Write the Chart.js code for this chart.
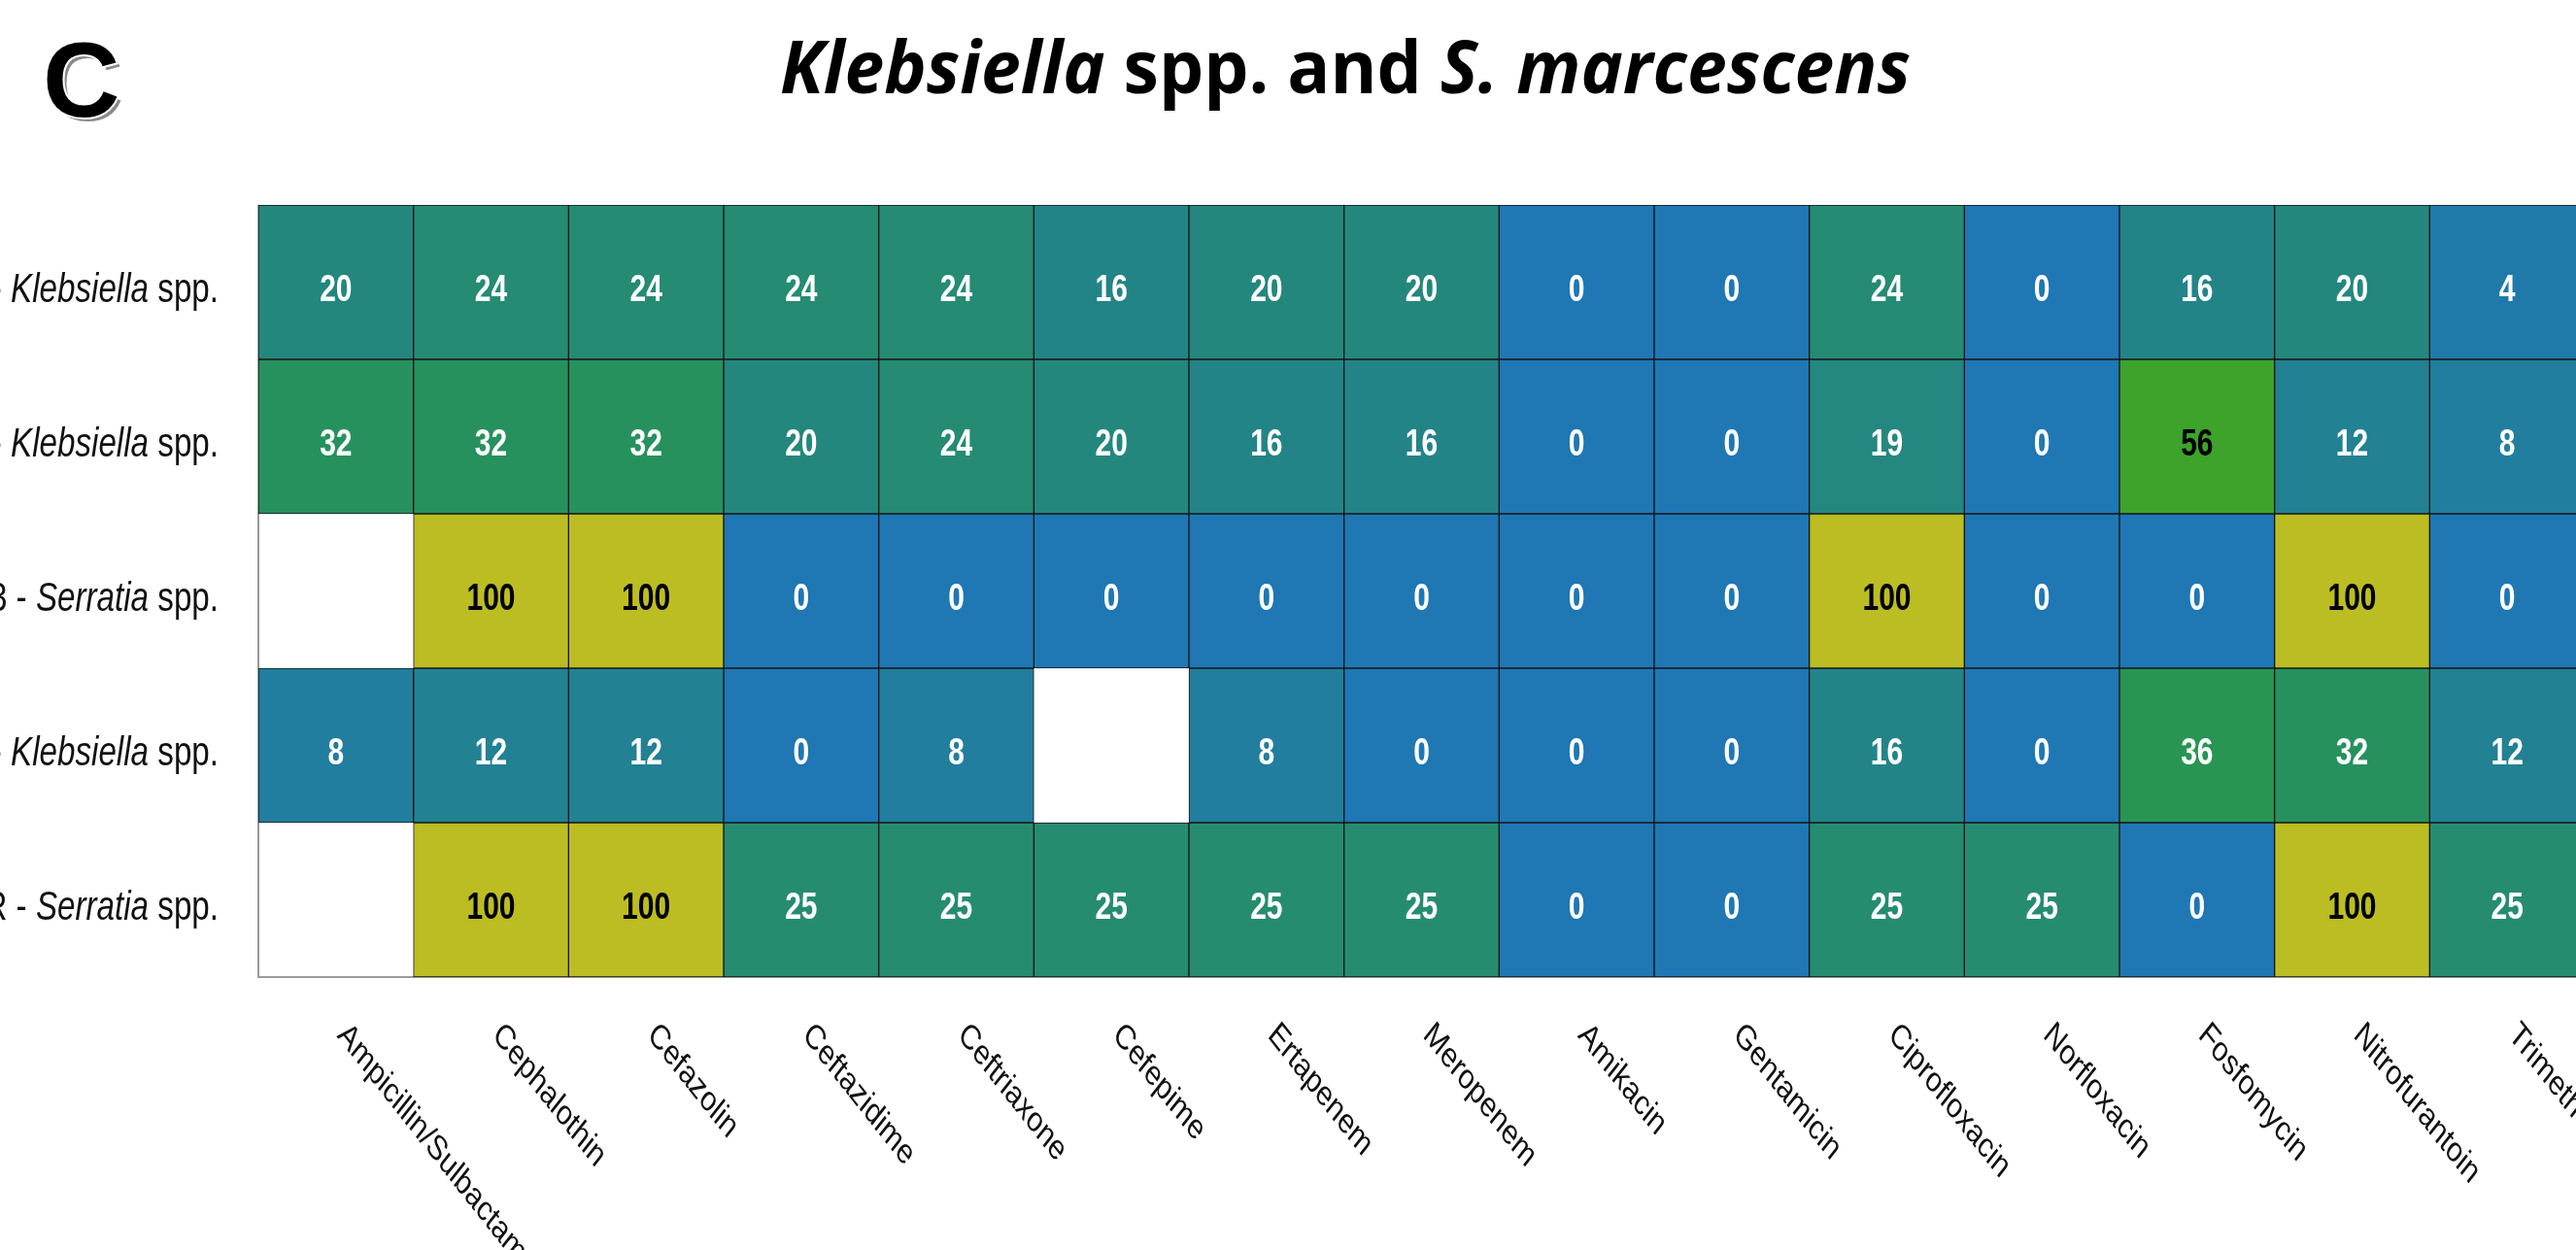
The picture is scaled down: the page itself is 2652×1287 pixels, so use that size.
<!DOCTYPE html>
<html>
<head>
<meta charset="utf-8">
<title>Klebsiella spp. and S. marcescens</title>
<script src="https://cdn.jsdelivr.net/npm/chart.js@4.4.1/dist/chart.umd.min.js"></script>
<style>
    html, body { margin: 0; padding: 0; overflow: hidden; background: #fff; }
    #wrap { position: absolute; left: 0; top: 0; width: 2700px; height: 1287px; }
</style>
</head>
<body>
<div id="wrap"><canvas id="heat"></canvas></div>
<script>
// ── Data ─────────────────────────────────────────────────
const antibiotics = [
    'Ampicillin/Sulbactam', 'Cephalothin', 'Cefazolin', 'Ceftazidime', 'Ceftriaxone',
    'Cefepime', 'Ertapenem', 'Meropenem', 'Amikacin', 'Gentamicin',
    'Ciprofloxacin', 'Norfloxacin', 'Fosfomycin', 'Nitrofurantoin', 'Trimethoprim/Sulfamethoxazole'
];
const rowLabels = [
    '- Klebsiella spp.',
    '- Klebsiella spp.',
    '3 - Serratia spp.',
    '- Klebsiella spp.',
    'R - Serratia spp.'
];
const row1 = [20, 24, 24, 24, 24, 16, 20, 20, 0, 0, 24, 0, 16, 20, 4];
const row2 = [32, 32, 32, 20, 24, 20, 16, 16, 0, 0, 19, 0, 56, 12, 8];
const row3 = [null, 100, 100, 0, 0, 0, 0, 0, 0, 0, 100, 0, 0, 100, 0];
const row4 = [8, 12, 12, 0, 8, null, 8, 0, 0, 0, 16, 0, 36, 32, 12];
const row5 = [null, 100, 100, 25, 25, 25, 25, 25, 0, 0, 25, 25, 0, 100, 25];
const rows = [row1, row2, row3, row4, row5];

const titleParts = [
    { text: 'Klebsiella', italic: true },
    { text: ' spp. and ', italic: false },
    { text: 'S. marcescens', italic: true }
];
const panelLetter = 'C';

// ── Look ─────────────────────────────────────────────────
const SQUISH = 0.79;          // the figure is compressed horizontally
const colorStops = [
    [0,   [31, 119, 180]],
    [50,  [44, 160, 44]],
    [100, [188, 189, 34]]
];

function cmap(v) {
    for (let i = 1; i < colorStops.length; i++) {
        const [v1, c1] = colorStops[i];
        const [v0, c0] = colorStops[i - 1];
        if (v <= v1) {
            const t = (v - v0) / (v1 - v0);
            const c = c0.map((a, k) => Math.round(a + (c1[k] - a) * t));
            return `rgb(${c[0]},${c[1]},${c[2]})`;
        }
    }
    const c = colorStops[colorStops.length - 1][1];
    return `rgb(${c[0]},${c[1]},${c[2]})`;
}

const datasets = rows.map((vals, r) => ({
    label: rowLabels[r],
    data: vals.map(v => v == null ? null : [r, r + 1]),
    values: vals,
    backgroundColor: vals.map(v => v == null ? 'rgba(0,0,0,0)' : cmap(v)),
    borderColor: '#161616',
    borderWidth: 1,
    borderSkipped: false,
    barPercentage: 1,
    categoryPercentage: 1,
    grouped: false,
}));

// ── Text plugin: title, panel letter, row/column labels, cell values ──
const textPlugin = {
    id: 'heatText',
    beforeDatasetsDraw(chart) {
        const { ctx, chartArea: a } = chart;
        ctx.save();
        ctx.strokeStyle = '#9a9a9a';
        ctx.lineWidth = 2;
        ctx.beginPath();
        ctx.moveTo(a.left, a.top);
        ctx.lineTo(a.left, a.bottom);
        ctx.lineTo(a.right, a.bottom);
        ctx.stroke();
        ctx.restore();
    },
    afterDatasetsDraw(chart) {
        const { ctx, chartArea: a } = chart;
        const xs = chart.scales.x, ys = chart.scales.y;

        // cell values
        chart.data.datasets.forEach((ds, di) => {
            const meta = chart.getDatasetMeta(di);
            meta.data.forEach((el, j) => {
                const v = ds.values[j];
                if (v == null) return;
                const { x, y, base } = el.getProps(['x', 'y', 'base'], true);
                const cy = (y + base) / 2;
                ctx.save();
                ctx.translate(x, cy + 19);
                ctx.scale(SQUISH, 1);
                ctx.font = 'bold 38px "Liberation Sans", Arial, sans-serif';
                ctx.textAlign = 'center';
                ctx.textBaseline = 'alphabetic';
                ctx.fillStyle = v >= 50 ? '#000' : '#fff';
                ctx.fillText(String(v), 0, 0);
                ctx.restore();
            });
        });

        // row labels (genus in italics)
        const lblSize = 42;
        rowLabels.forEach((lbl, r) => {
            const m = lbl.match(/^(.*?)(\S+)( spp\.)$/);
            const parts = m ? [[m[1], false], [m[2], true], [m[3], false]] : [[lbl, false]];
            const cy = ys.getPixelForValue(r + 0.5);
            ctx.save();
            ctx.translate(a.left - 41, cy + 20);
            ctx.scale(SQUISH, 1);
            ctx.fillStyle = '#111';
            ctx.textBaseline = 'alphabetic';
            ctx.textAlign = 'left';
            const fontOf = it => `${it ? 'italic ' : ''}${lblSize}px "Liberation Sans", Arial, sans-serif`;
            let total = 0;
            parts.forEach(([t, it]) => { ctx.font = fontOf(it); total += ctx.measureText(t).width; });
            let px = -total;
            parts.forEach(([t, it]) => {
                ctx.font = fontOf(it);
                ctx.fillText(t, px, 0);
                px += ctx.measureText(t).width;
            });
            ctx.restore();
        });

        // column labels, rotated 45deg then compressed
        antibiotics.forEach((name, j) => {
            const cx = xs.getPixelForValue(j);
            ctx.save();
            ctx.translate(cx + 6, a.bottom + 54);
            ctx.scale(SQUISH, 1);
            ctx.rotate(Math.PI / 4);
            ctx.font = '36px "Liberation Sans", Arial, sans-serif';
            ctx.fillStyle = '#111';
            ctx.textAlign = 'left';
            ctx.textBaseline = 'middle';
            ctx.fillText(name, 0, 0);
            ctx.restore();
        });

        // title
        ctx.save();
        const tSize = 76;
        const tFont = it => `${it ? 'italic ' : ''}bold ${tSize}px "Open Sans", "Liberation Sans", sans-serif`;
        let tw = 0;
        titleParts.forEach(p => { ctx.font = tFont(p.italic); tw += ctx.measureText(p.text).width; });
        const targetW = 1164;
        const sx = targetW / tw;
        ctx.translate(1385, 96);
        ctx.scale(sx, 1);
        ctx.fillStyle = '#000';
        ctx.textBaseline = 'alphabetic';
        ctx.textAlign = 'left';
        let tx = -tw / 2;
        titleParts.forEach(p => {
            ctx.font = tFont(p.italic);
            ctx.fillText(p.text, tx, 0);
            tx += ctx.measureText(p.text).width;
        });
        ctx.restore();

        // panel letter with outline and shadow
        ctx.save();
        ctx.font = 'bold 110px "Liberation Sans", Arial, sans-serif';
        ctx.textBaseline = 'alphabetic';
        ctx.fillStyle = '#8a8a8a';
        ctx.fillText(panelLetter, 48, 124);
        ctx.strokeStyle = '#fff';
        ctx.lineWidth = 4;
        ctx.strokeText(panelLetter, 44, 120);
        ctx.fillStyle = '#000';
        ctx.fillText(panelLetter, 44, 120);
        ctx.restore();
    }
};

// ── Chart ────────────────────────────────────────────────
const canvas = document.getElementById('heat');
new Chart(canvas.getContext('2d'), {
    type: 'bar',
    data: { labels: antibiotics, datasets },
    options: {
        responsive: true,
        maintainAspectRatio: false,
        animation: false,
        events: [],
        layout: { padding: { left: 266, top: 211, right: 39, bottom: 281 } },
        plugins: { legend: { display: false }, tooltip: { enabled: false }, title: { display: false } },
        scales: {
            x: { type: 'category', offset: true, display: false },
            y: { type: 'linear', min: 0, max: 5, reverse: true, display: false },
        },
    },
    plugins: [textPlugin],
});
</script>
</body>
</html>
